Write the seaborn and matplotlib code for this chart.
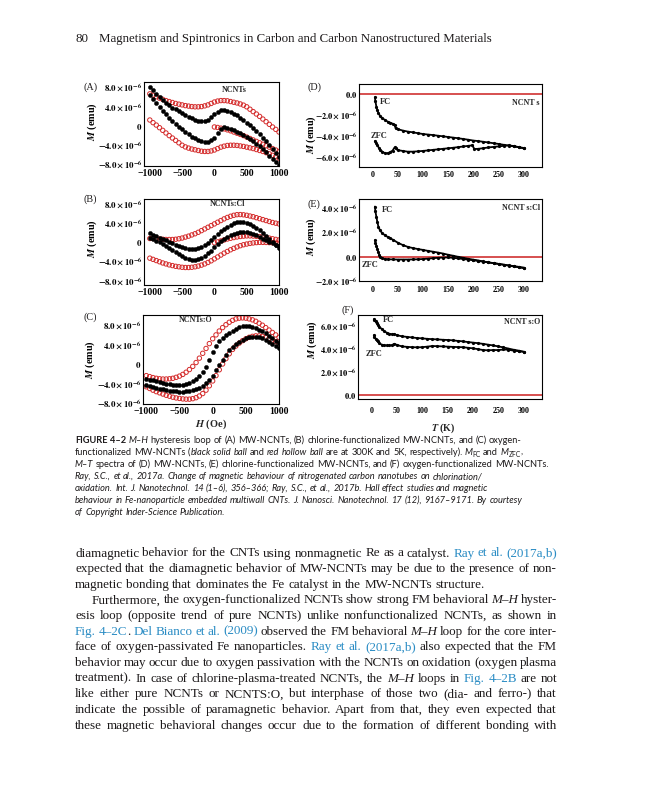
import matplotlib
matplotlib.use("Agg")
import matplotlib.pyplot as plt
import seaborn as sns
from matplotlib.ticker import AutoMinorLocator

# ---------------- data (M in units of 1e-6 emu) ----------------
H_FIELD = [-1000, -950, -900, -850, -800, -750, -700, -650, -600, -550,
           -500, -450, -400, -350, -300, -250, -200, -150, -100, -50,
           0, 50, 100, 150, 200, 250, 300, 350, 400, 450,
           500, 550, 600, 650, 700, 750, 800, 850, 900, 950, 1000]
H_VIRGIN = [0, 50, 100, 150, 200, 250, 300, 350, 400, 450, 500,
            550, 600, 650, 700, 750, 800, 850, 900, 950, 1000]

# (A) NCNTs
A_RED_UP = [6.7, 6.4, 6.1, 5.8, 5.55, 5.3, 5.1, 4.9, 4.7, 4.55, 4.4, 4.25, 4.15, 4.05, 4.0, 4.0, 4.05, 4.2, 4.4, 4.7,
            5.0, 5.2, 5.3, 5.3, 5.25, 5.1, 4.95, 4.8, 4.6, 4.35, 4.0, 3.5, 3.0, 2.5, 2.0, 1.45, 0.9, 0.35, -0.2, -0.7, -1.25]
A_RED_LO = [1.25, 0.7, 0.2, -0.35, -0.9, -1.45, -2.0, -2.5, -3.0, -3.5, -4.0, -4.35, -4.6, -4.8, -4.95, -5.1, -5.25, -5.3, -5.3, -5.2,
            -5.0, -4.7, -4.4, -4.2, -4.05, -4.0, -4.0, -4.05, -4.15, -4.25, -4.4, -4.55, -4.7, -4.9, -5.1, -5.3, -5.55, -5.8, -6.1, -6.4, -6.7]
A_RED_VIRGIN = [-0.2, -0.3, -0.45, -0.6, -0.8, -1.0, -1.25, -1.5, -1.75, -2.0, -2.3,
                -2.6, -2.9, -3.2, -3.5, -3.8, -4.1, -4.4, -4.7, -5.0, -5.3]
A_BLK_UP = [8.1, 7.4, 6.7, 6.0, 5.4, 4.8, 4.3, 3.85, 3.45, 3.05, 2.65, 2.3, 1.95, 1.65, 1.35, 1.1, 0.95, 0.95, 1.2, 1.8,
            2.5, 3.0, 3.3, 3.35, 3.2, 2.95, 2.6, 2.2, 1.75, 1.25, 0.7, 0.15, -0.4, -1.0, -1.65, -2.4, -3.2, -4.0, -4.8, -5.6, -6.4]
A_BLK_LO = [6.4, 5.6, 4.8, 4.0, 3.2, 2.4, 1.65, 1.0, 0.4, -0.15, -0.7, -1.25, -1.75, -2.2, -2.6, -2.95, -3.2, -3.35, -3.3, -3.0,
            -2.5, -1.5, -0.6, -0.3, -0.35, -0.6, -0.9, -1.2, -1.5, -1.9, -2.3, -2.75, -3.2, -3.7, -4.25, -4.85, -5.5, -6.15, -6.8, -7.45, -8.1]

# (B) NCNTs:Cl
B_RED_UP = [0.8, 0.8, 0.75, 0.7, 0.65, 0.6, 0.6, 0.6, 0.65, 0.75, 0.9, 1.1, 1.3, 1.55, 1.8, 2.1, 2.45, 2.8, 3.15, 3.5,
            3.85, 4.2, 4.55, 4.9, 5.2, 5.45, 5.65, 5.78, 5.8, 5.75, 5.65, 5.5, 5.35, 5.15, 4.95, 4.75, 4.55, 4.35, 4.15, 4.0, 3.85]
B_RED_LO = [-3.3, -3.55, -3.8, -4.05, -4.3, -4.5, -4.7, -4.85, -5.0, -5.1, -5.2, -5.25, -5.25, -5.2, -5.1, -4.95, -4.75, -4.5, -4.2, -3.85,
            -3.45, -3.05, -2.65, -2.25, -1.9, -1.55, -1.25, -0.95, -0.7, -0.5, -0.35, -0.22, -0.12, -0.05, 0.0, 0.0, -0.02, -0.05, -0.1, -0.15, -0.2]
B_RED_VIRGIN = [-0.1, 0.1, 0.3, 0.5, 0.7, 0.85, 1.0, 1.12, 1.22, 1.3, 1.35,
                1.35, 1.32, 1.27, 1.2, 1.1, 1.0, 0.88, 0.75, 0.62, 0.5]
B_BLK_UP = [1.9, 1.6, 1.3, 1.0, 0.7, 0.4, 0.1, -0.2, -0.5, -0.8, -1.05, -1.25, -1.4, -1.45, -1.4, -1.25, -1.0, -0.6, -0.1, 0.5,
            1.1, 1.7, 2.3, 2.8, 3.3, 3.7, 4.0, 4.2, 4.3, 4.25, 4.1, 3.85, 3.5, 3.05, 2.5, 1.9, 1.25, 0.6, 0.0, -0.6, -1.2]
B_BLK_LO = [0.9, 0.6, 0.3, 0.0, -0.35, -0.75, -1.15, -1.6, -2.0, -2.45, -2.85, -3.2, -3.5, -3.65, -3.65, -3.5, -3.2, -2.8, -2.3, -1.7,
            -1.0, -0.4, 0.2, 0.7, 1.15, 1.5, 1.8, 2.0, 2.15, 2.2, 2.15, 2.0, 1.8, 1.5, 1.15, 0.8, 0.45, 0.1, -0.2, -0.45, -0.7]

# (C) NCNTs:O
C_RED_UP = [-2.3, -2.5, -2.7, -2.85, -2.95, -3.0, -3.0, -2.95, -2.85, -2.65, -2.4, -2.05, -1.6, -1.05, -0.4, 0.4, 1.3, 2.3, 3.3, 4.3,
            5.3, 6.1, 6.9, 7.6, 8.2, 8.7, 9.1, 9.4, 9.55, 9.6, 9.55, 9.4, 9.2, 8.9, 8.5, 8.1, 7.6, 7.1, 6.6, 6.1, 5.6]
C_RED_LO = [-4.6, -4.95, -5.3, -5.6, -5.85, -6.1, -6.35, -6.55, -6.75, -6.9, -7.0, -7.1, -7.15, -7.15, -7.05, -6.85, -6.5, -6.0, -5.3, -4.4,
            -3.4, -2.3, -1.1, 0.1, 1.2, 2.2, 3.1, 3.8, 4.4, 4.9, 5.3, 5.6, 5.8, 5.9, 5.9, 5.8, 5.6, 5.35, 5.05, 4.7, 4.3]
C_BLK_UP = [-2.9, -3.1, -3.3, -3.5, -3.7, -3.85, -4.0, -4.1, -4.2, -4.25, -4.25, -4.15, -4.0, -3.75, -3.4, -2.9, -2.3, -1.6, -0.6, 1.0,
            2.6, 3.9, 4.8, 5.5, 6.0, 6.5, 7.0, 7.4, 7.7, 7.9, 7.95, 7.9, 7.75, 7.5, 7.2, 6.8, 6.4, 5.9, 5.4, 4.9, 4.4]
C_BLK_LO = [-4.2, -4.4, -4.6, -4.8, -5.0, -5.15, -5.3, -5.4, -5.5, -5.55, -5.6, -5.6, -5.55, -5.45, -5.3, -5.1, -4.8, -4.4, -3.9, -3.2,
            -2.3, -1.2, -0.1, 1.0, 2.0, 2.9, 3.6, 4.2, 4.7, 5.1, 5.4, 5.6, 5.7, 5.7, 5.6, 5.4, 5.1, 4.7, 4.3, 3.8, 3.3]

# (D) NCNTs  M-T
D_T_FC = [5, 6, 8, 10, 12, 15, 20, 25, 30, 35, 40, 44, 46, 50, 60, 70, 80, 90, 100, 110, 120, 130, 140, 150,
          160, 170, 180, 190, 200, 210, 220, 230, 240, 250, 260, 270, 280, 290, 300]
D_FC = [-0.3, -0.7, -1.2, -1.55, -1.8, -2.05, -2.3, -2.45, -2.6, -2.7, -2.8, -2.9, -3.25, -3.32, -3.45, -3.55, -3.62, -3.7,
        -3.78, -3.83, -3.88, -3.94, -4.0, -4.06, -4.12, -4.18, -4.25, -4.32, -4.4, -4.45, -4.52, -4.58, -4.65, -4.72,
        -4.8, -4.88, -4.95, -5.03, -5.1]
D_T_ZFC = [5, 7, 10, 13, 16, 20, 25, 30, 35, 40, 44, 46, 50, 60, 70, 80, 90, 100, 110, 120, 130, 140, 150, 160,
           170, 180, 190, 198, 202, 210, 220, 230, 240, 250, 260, 270, 280, 290, 300]
D_ZFC = [-4.45, -4.65, -4.85, -5.1, -5.3, -5.45, -5.6, -5.6, -5.5, -5.35, -5.05, -5.15, -5.3, -5.38, -5.45, -5.45, -5.42,
         -5.38, -5.33, -5.28, -5.23, -5.18, -5.13, -5.08, -5.02, -4.96, -4.9, -4.85, -5.2, -5.18, -5.12, -5.05, -5.0,
         -4.95, -4.9, -4.85, -4.92, -5.02, -5.15]

# (E) NCNTs:Cl  M-T
E_T_FC = [5, 6, 8, 10, 12, 15, 20, 25, 30, 35, 40, 50, 60, 70, 80, 90, 100, 110, 120, 130, 140, 150, 160, 170,
          180, 190, 200, 210, 220, 230, 240, 250, 260, 270, 280, 290, 300]
E_FC = [4.1, 3.7, 3.25, 2.8, 2.45, 2.15, 1.9, 1.75, 1.62, 1.5, 1.4, 1.15, 0.95, 0.8, 0.7, 0.62, 0.55, 0.47, 0.4, 0.33,
        0.25, 0.15, 0.07, -0.02, -0.1, -0.18, -0.25, -0.32, -0.4, -0.47, -0.54, -0.6, -0.67, -0.74, -0.81, -0.88, -0.95]
E_T_ZFC = [5, 6, 8, 10, 12, 14, 16, 20, 25, 30, 40, 50, 60, 70, 80, 90, 100, 110, 120, 130, 140, 150, 160, 170,
           180, 190, 200, 210, 220, 230, 240, 250, 260, 270, 280, 290, 300]
E_ZFC = [1.35, 1.15, 0.9, 0.6, 0.35, 0.12, -0.05, -0.15, -0.2, -0.22, -0.23, -0.24, -0.24, -0.24, -0.23, -0.22, -0.2,
         -0.17, -0.13, -0.1, -0.08, -0.07, -0.1, -0.15, -0.2, -0.25, -0.3, -0.36, -0.42, -0.48, -0.54, -0.6, -0.66,
         -0.72, -0.78, -0.84, -0.9]

# (F) NCNTs:O  M-T
F_T = [5, 6, 8, 10, 12, 15, 20, 25, 30, 35, 40, 45, 50, 60, 70, 80, 90, 100, 110, 120, 130, 140, 150, 160, 170,
       180, 190, 200, 210, 220, 230, 240, 250, 260, 270, 280, 290, 300]
F_FC = [6.6, 6.5, 6.4, 6.25, 6.1, 5.95, 5.75, 5.55, 5.42, 5.33, 5.28, 5.3, 5.2, 5.1, 5.05, 5.0, 4.95, 4.92, 4.88, 4.85,
        4.83, 4.8, 4.78, 4.75, 4.7, 4.66, 4.6, 4.55, 4.5, 4.44, 4.37, 4.3, 4.22, 4.13, 4.03, 3.93, 3.85, 3.75]
F_ZFC = [5.2, 5.05, 4.9, 4.78, 4.65, 4.5, 4.38, 4.32, 4.3, 4.3, 4.32, 4.45, 4.35, 4.22, 4.18, 4.15, 4.14, 4.15, 4.2,
         4.25, 4.24, 4.22, 4.2, 4.18, 4.16, 4.15, 4.1, 4.05, 3.98, 3.9, 3.88, 3.9, 3.9, 3.95, 3.93, 3.85, 3.8, 3.75]

# ticks
H_TICKS = [-1000, -500, 0, 500, 1000]
H_TICK_LABELS = ["\u22121000", "\u2212500", "0", "500", "1000"]
MH_TICKS = [-8, -4, 0, 4, 8]
MH_TICK_LABELS = [r"$\mathbf{-8.0\times10^{-6}}$", r"$\mathbf{-4.0\times10^{-6}}$", r"$\mathbf{0}$",
                  r"$\mathbf{4.0\times10^{-6}}$", r"$\mathbf{8.0\times10^{-6}}$"]
T_TICKS = [0, 50, 100, 150, 200, 250, 300]
D_TICKS = [0, -2, -4, -6]
D_TICK_LABELS = [r"$\mathbf{0.0}$", r"$\mathbf{-2.0\times10^{-6}}$", r"$\mathbf{-4.0\times10^{-6}}$", r"$\mathbf{-6.0\times10^{-6}}$"]
E_TICKS = [-2, 0, 2, 4]
E_TICK_LABELS = [r"$\mathbf{-2.0\times10^{-6}}$", r"$\mathbf{0.0}$", r"$\mathbf{2.0\times10^{-6}}$", r"$\mathbf{4.0\times10^{-6}}$"]
F_TICKS = [0, 2, 4, 6]
F_TICK_LABELS = [r"$\mathbf{0.0}$", r"$\mathbf{2.0\times10^{-6}}$", r"$\mathbf{4.0\times10^{-6}}$", r"$\mathbf{6.0\times10^{-6}}$"]

# ---------------- page text ----------------
HEADER_NUM = "80"
HEADER_TITLE = "Magnetism and Spintronics in Carbon and Carbon Nanostructured Materials"

CAPTION = [
    [("FIGURE 4\u20132", "b"), (" ", "n"), ("M\u2013H", "i"),
     (" hysteresis loop of (A) MW-NCNTs, (B) chlorine-functionalized MW-NCNTs, and (C) oxygen-", "n")],
    [("functionalized MW-NCNTs (", "n"), ("black solid ball", "i"), (" and ", "n"), ("red hollow ball", "i"),
     (" are at 300K and 5K, respectively). ", "n"), ("M", "i"), ("FC", "sub"), (" and ", "n"), ("M", "i"),
     ("ZFC", "sub"), (",", "n")],
    [("M\u2013T", "i"), (" spectra of (D) MW-NCNTs, (E) chlorine-functionalized MW-NCNTs, and (F) oxygen-functionalized MW-NCNTs.", "n")],
    [("Ray, S.C., et al., 2017a. Change of magnetic behaviour of nitrogenated carbon nanotubes on chlorination/", "i")],
    [("oxidation. Int. J. Nanotechnol. 14 (1\u20136), 356\u2013366; Ray, S.C., et al., 2017b. Hall effect studies and magnetic", "i")],
    [("behaviour in Fe-nanoparticle embedded multiwall CNTs. J. Nanosci. Nanotechnol. 17 (12), 9167\u20139171. By courtesy", "i")],
    [("of Copyright Inder-Science Publication.", "i")],
]
CAPTION_RIGHT = [545, 548, 550, 517, 532, 550, None]

BODY = [
    ([("diamagnetic behavior for the CNTs using nonmagnetic Re as a catalyst. ", "n"), ("Ray et al. (2017a,b)", "blue")], True, 0),
    ([("expected that the diamagnetic behavior of MW-NCNTs may be due to the presence of non-", "n")], True, 0),
    ([("magnetic bonding that dominates the Fe catalyst in the MW-NCNTs structure.", "n")], False, 0),
    ([("Furthermore, the oxygen-functionalized NCNTs show strong FM behavioral ", "n"), ("M\u2013H", "i"), (" hyster-", "n")], True, 17),
    ([("esis loop (opposite trend of pure NCNTs) unlike nonfunctionalized NCNTs, as shown in", "n")], True, 0),
    ([("Fig. 4\u20132C", "blue"), (". ", "n"), ("Del Bianco et al. (2009)", "blue"), (" observed the FM behavioral ", "n"),
      ("M\u2013H", "i"), (" loop for the core inter-", "n")], True, 0),
    ([("face of oxygen-passivated Fe nanoparticles. ", "n"), ("Ray et al. (2017a,b)", "blue"), (" also expected that the FM", "n")], True, 0),
    ([("behavior may occur due to oxygen passivation with the NCNTs on oxidation (oxygen plasma", "n")], True, 0),
    ([("treatment). In case of chlorine-plasma-treated NCNTs, the ", "n"), ("M\u2013H", "i"), (" loops in ", "n"),
      ("Fig. 4\u20132B", "blue"), (" are not", "n")], True, 0),
    ([("like either pure NCNTs or NCNTS:O, but interphase of those two (dia- and ferro-) that", "n")], True, 0),
    ([("indicate the possible of paramagnetic behavior. Apart from that, they even expected that", "n")], True, 0),
    ([("these magnetic behavioral changes occur due to the formation of different bonding with", "n")], True, 0),
]

# ---------------- figure ----------------
sns.set_theme(style="white")
plt.rcParams["font.family"] = ["Liberation Serif", "DejaVu Serif"]
plt.rcParams["mathtext.fontset"] = "stix"
plt.rcParams["axes.linewidth"] = 0.8

W, HH = 648, 800
fig = plt.figure(figsize=(6.48, 8.0), dpi=100)
fig.patch.set_facecolor("white")
INK = "#1d1a1b"
RED = "#d42a2a"
BLUE = "#2a8cc4"


def ax_px(l, t, r, b):
    return fig.add_axes([l / W, 1 - b / HH, (r - l) / W, (b - t) / HH])


def ftext(x, y, s, **kw):
    return fig.text(x / W, 1 - y / HH, s, **kw)


def style_axes(ax, xlabsize, ylabsize, xpad):
    ax.set_facecolor("white")
    for sp in ax.spines.values():
        sp.set_color("black")
        sp.set_linewidth(0.8)
    ax.xaxis.set_minor_locator(AutoMinorLocator(2))
    ax.yaxis.set_minor_locator(AutoMinorLocator(2))
    ax.tick_params(which="major", direction="in", length=2.5, width=0.6, colors="black", pad=1.5)
    ax.tick_params(which="minor", direction="in", length=1.4, width=0.5, colors="black")
    ax.tick_params(axis="x", labelsize=xlabsize, pad=xpad)
    ax.tick_params(axis="y", labelsize=ylabsize, pad=1.2)
    ax.set_xlabel("")
    ax.set_ylabel("")


def hollow(ax, x, y):
    sns.scatterplot(x=x, y=y, ax=ax, s=10, marker="o", facecolor="none", edgecolor=RED,
                    linewidth=0.7, legend=False, zorder=2)


def solid(ax, x, y):
    sns.scatterplot(x=x, y=y, ax=ax, s=9, marker="o", color="black", edgecolor="black",
                    linewidth=0.3, legend=False, zorder=3)


def mh_panel(box, xlim, ylim, red_sets, blk_sets):
    ax = ax_px(*box)
    for x, y in red_sets:
        hollow(ax, x, y)
    for x, y in blk_sets:
        solid(ax, x, y)
    ax.set_xlim(*xlim)
    ax.set_ylim(*ylim)
    ax.set_xticks(H_TICKS)
    ax.set_xticklabels(H_TICK_LABELS, fontweight="bold")
    ax.set_yticks(MH_TICKS)
    ax.set_yticklabels(MH_TICK_LABELS)
    style_axes(ax, 6.9, 6.3, 2.5)
    return ax


def mt_panel(box, ylim, yticks, ylabels, fc, zfc, xpad):
    ax = ax_px(*box)
    ax.axhline(0, color="#cc1f1f", lw=1.1, zorder=1)
    for t, m in (fc, zfc):
        sns.lineplot(x=t, y=m, ax=ax, color="black", linewidth=1.3, marker="o", markersize=2.3,
                     markeredgewidth=0, estimator=None, sort=False, legend=False, zorder=3)
    ax.set_xlim(-26.5, 336)
    ax.set_ylim(*ylim)
    ax.set_xticks(T_TICKS)
    ax.set_xticklabels([str(v) for v in T_TICKS], fontweight="bold")
    ax.set_yticks(yticks)
    ax.set_yticklabels(ylabels)
    style_axes(ax, 5.8, 6.0, xpad)
    return ax


mh_panel((144, 82, 279, 166), (-1090, 1000), (-8.33, 9.17),
         [(H_FIELD, A_RED_UP), (H_FIELD, A_RED_LO), (H_VIRGIN, A_RED_VIRGIN)],
         [(H_FIELD, A_BLK_UP), (H_FIELD, A_BLK_LO)])
mh_panel((144, 199, 279, 285), (-1090, 1000), (-8.9, 9.05),
         [(H_FIELD, B_RED_UP), (H_FIELD, B_RED_LO), (H_VIRGIN, B_RED_VIRGIN)],
         [(H_FIELD, B_BLK_UP), (H_FIELD, B_BLK_LO)])
mh_panel((143, 315, 279, 404), (-1050, 1000), (-8.15, 10.2),
         [(H_FIELD, C_RED_UP), (H_FIELD, C_RED_LO)],
         [(H_FIELD, C_BLK_UP), (H_FIELD, C_BLK_LO)])

mt_panel((359, 84, 542, 167), (-6.9, 0.95), D_TICKS, D_TICK_LABELS, (D_T_FC, D_FC), (D_T_ZFC, D_ZFC), 3)
mt_panel((359, 199, 542, 281), (-1.97, 4.72), E_TICKS, E_TICK_LABELS, (E_T_FC, E_FC), (E_T_ZFC, E_ZFC), 3.5)
mt_panel((358, 315, 542, 399), (-0.37, 6.96), F_TICKS, F_TICK_LABELS, (F_T, F_FC), (F_T, F_ZFC), 6)

# panel letters
for lab, x, y in [("(A)", 83, 87), ("(B)", 83, 199), ("(C)", 83, 317),
                  ("(D)", 308, 87), ("(E)", 308, 204), ("(F)", 341, 310)]:
    ftext(x, y, lab, fontsize=7.3, color=INK, ha="left", va="center")

# y labels
YLAB = r"$\mathbfit{M}$ (emu)"
for x, y in [(92, 122), (92, 239), (90, 360), (311, 135), (311, 237), (312, 340)]:
    ftext(x, y, YLAB, fontsize=7.3, fontweight="bold", rotation=90, ha="center", va="center", color="black")

# x labels
ftext(211, 424, r"$\mathbfit{H}$ (Oe)", fontsize=7.5, fontweight="bold", ha="center", va="center")
ftext(443, 428.5, r"$\mathbfit{T}$ (K)", fontsize=7.2, fontweight="bold", ha="center", va="center")

# inner labels
for s, x, y, ha in [("NCNTs", 234, 90, "center"), ("NCNTs:Cl", 227, 204, "center"), ("NCNTs:O", 196, 320, "center"),
                    ("NCNT s", 540, 103, "right"), ("NCNT s:Cl", 540, 208, "right"), ("NCNT s:O", 540, 322, "right")]:
    ftext(x, y, s, fontsize=5.8, fontweight="bold", ha=ha, va="center")
for s, x, y in [("FC", 380, 102), ("ZFC", 371, 136), ("FC", 382, 210), ("ZFC", 362, 265),
                ("FC", 383, 320), ("ZFC", 366, 354)]:
    ftext(x, y, s, fontsize=6, fontweight="bold", ha="left", va="center")

# ---------------- running text ----------------
renderer = fig.canvas.get_renderer()


def measure(s, kw):
    t = fig.text(0, 0, s, **kw)
    w = t.get_window_extent(renderer=renderer).width
    t.remove()
    return w


STYLES = {
    "n": ({}, 1.0, 0.0),
    "i": ({"style": "italic"}, 1.0, 0.0),
    "b": ({"weight": "bold"}, 1.0, 0.0),
    "blue": ({"color": BLUE}, 1.0, 0.0),
    "sub": ({}, 0.72, 1.8),
}


def split_words(segs):
    words = [[]]
    for txt, st in segs:
        parts = txt.split(" ")
        for i, p in enumerate(parts):
            if i > 0:
                words.append([])
            if p:
                words[-1].append((p, st))
    return [w for w in words if w]


def seg_kw(st, size, base):
    extra, fac, dy = STYLES[st]
    kw = dict(base)
    kw.update(extra)
    kw["fontsize"] = size * fac
    return kw, dy


def word_width(word, size, base):
    return sum(measure(txt, seg_kw(st, size, base)[0]) for txt, st in word)


def space_w(size, base):
    kw = dict(base, fontsize=size)
    return measure("a a", kw) - measure("aa", kw)


def natural_width(segs, size, base):
    words = split_words(segs)
    return sum(word_width(w, size, base) for w in words) + space_w(size, base) * (len(words) - 1)


def draw_line(segs, x0, y, size, base, target=None):
    words = split_words(segs)
    ws = [word_width(w, size, base) for w in words]
    if target is not None and len(words) > 1:
        gap = (target - sum(ws)) / (len(words) - 1)
    else:
        gap = space_w(size, base)
    x = x0
    for w, wd in zip(words, ws):
        xx = x
        for txt, st in w:
            kw, dy = seg_kw(st, size, base)
            ftext(xx, y + dy, txt, ha="left", va="baseline", **kw)
            xx += measure(txt, kw)
        x += wd + gap


# header
HBASE = {"family": "Liberation Serif", "color": INK}
hsize = 10 * 396 / measure(HEADER_TITLE, dict(HBASE, fontsize=10))
ftext(75, 42, HEADER_NUM, ha="left", va="baseline", fontsize=hsize, **HBASE)
ftext(99, 42, HEADER_TITLE, ha="left", va="baseline", fontsize=hsize, **HBASE)

# caption (ragged right: size chosen so no line needs compressing)
CBASE = {"family": "Lato", "color": INK}
ratios = [(r - 75) / natural_width(segs, 10, CBASE) for segs, r in zip(CAPTION, CAPTION_RIGHT) if r]
csize = 10 * min(ratios) * 0.995
for i, (segs, r) in enumerate(zip(CAPTION, CAPTION_RIGHT)):
    draw_line(segs, 75, 443 + 12 * i, csize, CBASE)

# body (justified)
BBASE = {"family": "Liberation Serif", "color": INK}
nat = [natural_width(segs, 10, BBASE) / (482 - ind) for segs, just, ind in BODY if just]
bsize = 10 * 0.985 / (sum(nat) / len(nat))
for i, (segs, just, ind) in enumerate(BODY):
    y = 556.5 + 15.65 * i
    draw_line(segs, 75 + ind, y, bsize, BBASE, target=(482 - ind) if just else None)

fig.savefig("out.png", dpi=100, facecolor="white")
